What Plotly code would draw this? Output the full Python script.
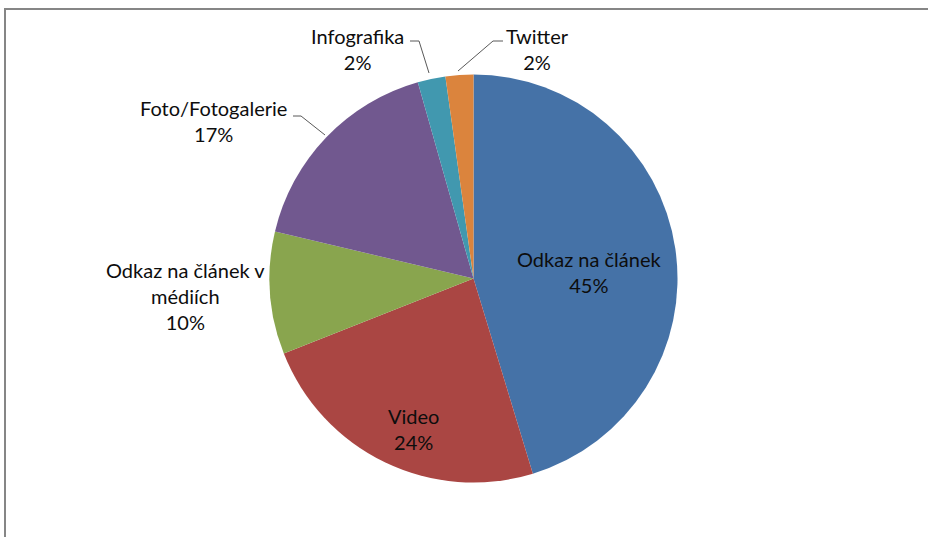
import plotly.graph_objects as go

# Data
categories = ["Odkaz na článek", "Video", "Odkaz na článek v médiích",
              "Foto/Fotogalerie", "Infografika", "Twitter"]
values = [45.3, 23.7, 9.7, 16.9, 2.2, 2.2]
colors = ["#4572A7", "#AA4643", "#89A54E", "#71588F", "#4198AF", "#DB843D"]

label_texts = ["Odkaz na článek", "Video", "Odkaz na článek v<br>médiích",
               "Foto/Fotogalerie", "Infografika", "Twitter"]
total = sum(values)
pct_texts = [f"{round(v / total * 100)}%" for v in values]

W, H = 928, 537
FONT = dict(family="Lato, Carlito, Calibri, sans-serif", size=20, color="#0d0d0d")

def px(x):
    return x / W

def py(y):
    return 1 - y / H

cx, cy, R = 473.5, 278.5, 204

fig = go.Figure(go.Pie(
    labels=categories,
    values=values,
    sort=False,
    direction="clockwise",
    rotation=0,
    marker=dict(colors=colors, line=dict(width=0)),
    textinfo="none",
    hoverinfo="label+percent",
    showlegend=False,
    domain=dict(x=[px(cx - R), px(cx + R)], y=[py(cy + R), py(cy - R)]),
))

# label placement (pixel centers) -- layout constants
label_pos = [(589, 272), (413, 429), (185, 296), (213, 121), (357, 49), (537, 49)]

annotations = []
for txt, pct, (lx, ly) in zip(label_texts, pct_texts, label_pos):
    annotations.append(dict(
        x=px(lx), y=py(ly), xref="paper", yref="paper",
        text=f"{txt}<br>{pct}", showarrow=False, font=FONT,
        xanchor="center", yanchor="middle", align="center",
    ))

# leader lines (pixel polylines)
leaders = [
    [(293, 116), (301, 116), (325, 135)],   # Foto
    [(410, 41), (419, 41), (429, 73)],      # Infografika
    [(503, 41), (493, 41), (458, 71)],      # Twitter
]
shapes = []
for pts in leaders:
    path = "M " + " L ".join(f"{px(x)},{py(y)}" for x, y in pts)
    shapes.append(dict(type="path", xref="paper", yref="paper", path=path,
                       line=dict(color="#595959", width=1)))

# chart border (top & left visible)
shapes.append(dict(type="line", xref="paper", yref="paper",
                   x0=px(4), x1=1.01, y0=py(9), y1=py(9),
                   line=dict(color="#868686", width=2)))
shapes.append(dict(type="line", xref="paper", yref="paper",
                   x0=px(5), x1=px(5), y0=py(9), y1=-0.01,
                   line=dict(color="#868686", width=2)))

fig.update_layout(
    width=W, height=H,
    margin=dict(l=0, r=0, t=0, b=0),
    paper_bgcolor="white",
    plot_bgcolor="white",
    annotations=annotations,
    shapes=shapes,
)

fig.write_html(
    "out.html",
    config={"displayModeBar": False},
    post_script="document.body.style.margin='0px';document.body.style.overflow='hidden';",
)
